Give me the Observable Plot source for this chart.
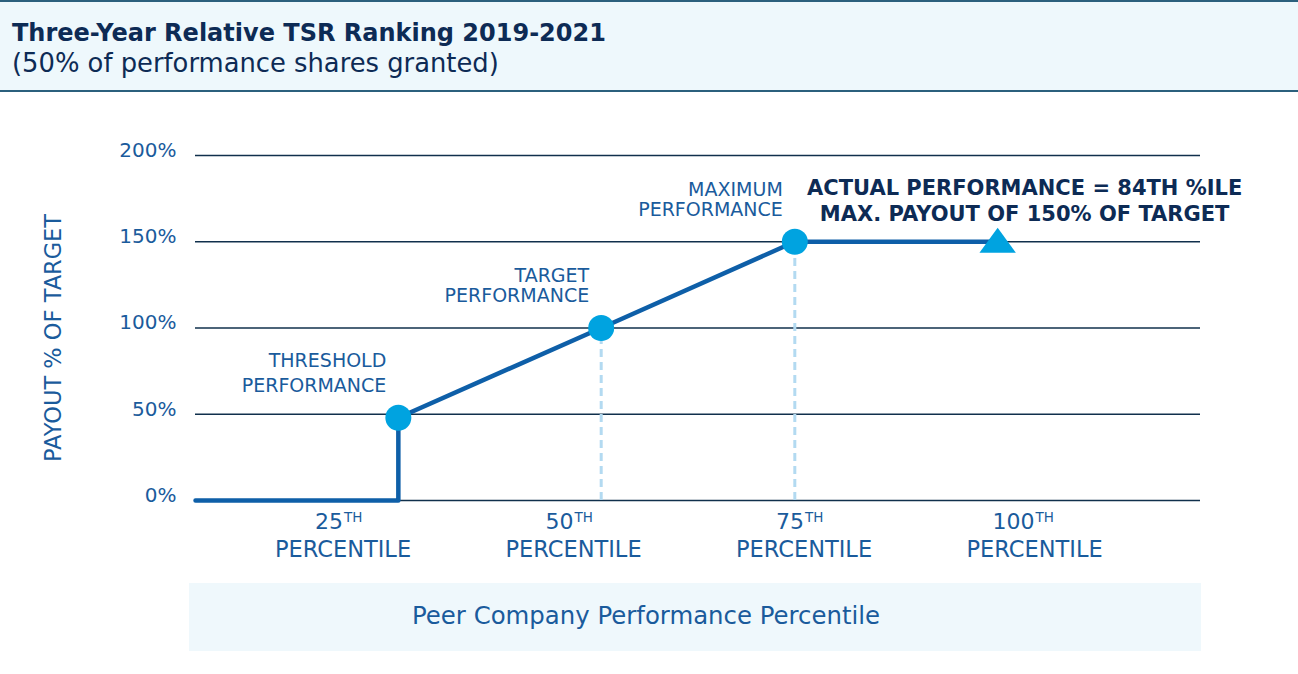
<!DOCTYPE html>
<html><head><meta charset="utf-8">
<script src="https://cdn.jsdelivr.net/npm/d3@7"></script>
<script src="https://cdn.jsdelivr.net/npm/@observablehq/plot@0.6"></script>
<style>
body{margin:0;background:#fff;font-family:"DejaVu Sans",sans-serif;width:1298px;}
#header{box-sizing:border-box;height:92px;border-top:2px solid #2b607d;border-bottom:2px solid #2b607d;background:#eef8fc;padding:16px 0 0 12px;}
#title{font-weight:bold;font-size:24px;color:#0d2b55;line-height:30px;}
#subtitle{font-size:25.8px;color:#0d2b55;line-height:30px;}
#xlabel{margin-left:189px;width:1012px;height:68px;background:#eff8fc;color:#1a5b9c;font-size:24.4px;line-height:66px;box-sizing:border-box;padding-left:223px;margin-top:11px;}
#chart svg{display:block;overflow:visible;}
</style></head>
<body>
<div id="header"><div id="title">Three-Year Relative TSR Ranking 2019-2021</div><div id="subtitle">(50% of performance shares granted)</div></div>
<div id="chart"></div>
<div id="xlabel">Peer Company Performance Percentile</div>
<script>
// ---- data ----
const yTicks = [0, 50, 100, 150, 200];
const xTickValues = [25, 50, 75, 100];
const xTickNumbers = ["25", "50", "75", "100"];
const xTickSuffix = "TH";
const xTickWord = "PERCENTILE";
const linePct = [9, 31, 31, 53, 74, 96];
const linePayout = [0, 0, 48, 100, 150, 150];
const milestoneNames = ["THRESHOLD\nPERFORMANCE", "TARGET\nPERFORMANCE", "MAXIMUM\nPERFORMANCE"];
const milestonePct = [31, 53, 74];
const milestonePayout = [48, 100, 150];
const actualPct = [96];
const actualPayout = [150];
const actualText = ["ACTUAL PERFORMANCE = 84TH %ILE\nMAX. PAYOUT OF 150% OF TARGET"];
const yLabel = ["PAYOUT % OF TARGET"];

// ---- build tables ----
const line = linePct.map((p, i) => ({p, v: linePayout[i]}));
const milestones = milestoneNames.map((name, i) => ({name, p: milestonePct[i], v: milestonePayout[i]}));
const ticks = xTickValues.map((p, i) => ({p, num: xTickNumbers[i]}));
const actual = actualPct.map((p, i) => ({p, v: actualPayout[i], t: actualText[i]}));

const blue = "#1a5b9c";
const triangle = {
  draw(ctx, size) {
    const r = Math.sqrt(size / Math.PI);
    ctx.moveTo(0, -1.08 * r);
    ctx.lineTo(1.4 * r, 0.85 * r);
    ctx.lineTo(-1.4 * r, 0.85 * r);
    ctx.closePath();
  }
};

const chart = Plot.plot({
  width: 1298, height: 480,
  marginLeft: 195, marginRight: 98, marginTop: 63, marginBottom: 72,
  style: {fontFamily: "DejaVu Sans", fontSize: "20px", background: "white"},
  x: {domain: [9, 118], axis: null},
  y: {domain: [0, 200]},
  marks: [
    Plot.ruleY(yTicks, {stroke: "#10304c", strokeWidth: 1.3}),
    Plot.axisY(yTicks, {tickSize: 0, tickPadding: 19, tickFormat: d => d + "%", color: blue, fontSize: 20, dy: -5, label: null}),
    Plot.text(yLabel, {frameAnchor: "left", textAnchor: "middle", lineAnchor: "middle", dx: -142, dy: 10, rotate: -90, fill: blue, fontSize: 22.5}),
    Plot.ruleX(milestones.slice(1), {x: "p", y1: 0, y2: "v", stroke: "#b3daf1", strokeWidth: 3, strokeDasharray: "8,5"}),
    Plot.line(line, {x: "p", y: "v", stroke: "#0e5fa8", strokeWidth: 4.5}),
    Plot.dot(milestones, {x: "p", y: "v", r: 13, fill: "#00a3e0"}),
    Plot.dot(actual, {x: "p", y: "v", r: 13, symbol: triangle, fill: "#00a3e0"}),
    Plot.text(milestones.slice(0, 1), {x: "p", y: "v", text: "name", textAnchor: "end", lineAnchor: "bottom", dx: -12, dy: -26, fontSize: 19, lineHeight: 1.3, fill: blue}),
    Plot.text(milestones.slice(1), {x: "p", y: "v", text: "name", textAnchor: "end", lineAnchor: "bottom", dx: -12, dy: -26, fontSize: 19, lineHeight: 1.05, fill: blue}),
    Plot.text(actual, {x: "p", y: "v", text: "t", textAnchor: "middle", lineAnchor: "bottom", dx: 27, dy: -21, fontSize: 21, fontWeight: "bold", lineHeight: 1.25, fill: "#0d2b55"}),
    Plot.text(ticks, {x: "p", frameAnchor: "bottom", text: "num", textAnchor: "end", lineAnchor: "middle", dy: 21, fontSize: 22, fill: blue}),
    Plot.text(ticks, {x: "p", frameAnchor: "bottom", text: () => xTickSuffix, textAnchor: "start", lineAnchor: "middle", dx: 1, dy: 17, fontSize: 13.5, fill: blue}),
    Plot.text(ticks, {x: "p", frameAnchor: "bottom", text: () => xTickWord, textAnchor: "middle", lineAnchor: "middle", dy: 49, fontSize: 22.5, fill: blue})
  ]
});
document.getElementById("chart").appendChild(chart);
</script>
</body></html>
